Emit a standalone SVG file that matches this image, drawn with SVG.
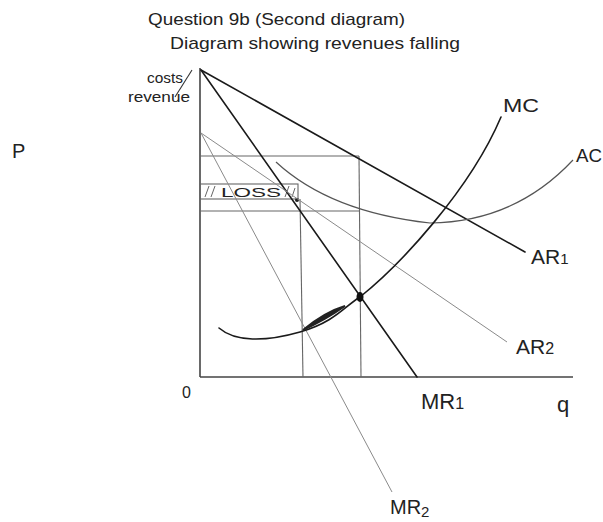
<svg xmlns="http://www.w3.org/2000/svg" width="603" height="522" viewBox="0 0 603 522">
<style>
.hw{font-family:"Liberation Sans",Arial,sans-serif;fill:#222;}
.dark{stroke:#1a1a1a;stroke-width:1.6;fill:none;stroke-linecap:round;}
.mid{stroke:#555;stroke-width:1.2;fill:none;}
.light{stroke:#8a8a8a;stroke-width:1;fill:none;}
.grid{stroke:#666;stroke-width:1.1;fill:none;}
.hatch{stroke:#666;stroke-width:1;}
</style>
<rect width="603" height="522" fill="#fff"/>
<g id="titles">
<text class="hw" x="148" y="25" font-size="17" textLength="257" lengthAdjust="spacingAndGlyphs">Question 9b (Second diagram)</text>
<text class="hw" x="170" y="49" font-size="17" textLength="290" lengthAdjust="spacingAndGlyphs">Diagram showing revenues falling</text>
</g>
<g id="p-label"><text x="12" y="158" font-family="Liberation Sans,Arial,sans-serif" font-size="20" fill="#222">P</text></g>
<g id="axis-labels">
<text class="hw" x="147" y="83" font-size="14" textLength="36" lengthAdjust="spacingAndGlyphs">costs</text>
<line x1="192" y1="70" x2="175" y2="97" stroke="#333" stroke-width="1.1"/>
<text class="hw" x="128" y="102" font-size="14" textLength="62" lengthAdjust="spacingAndGlyphs">revenue</text>
<text class="hw" x="182" y="398" font-size="16">0</text>
<text class="hw" x="557" y="412" font-size="22">q</text>
</g>
<g id="axes">
<line x1="200" y1="68" x2="200" y2="377" stroke="#444" stroke-width="1.6"/>
<line x1="200" y1="377" x2="573" y2="377" stroke="#444" stroke-width="1.6"/>
</g>
<g id="connectors">
<line class="grid" x1="200" y1="156" x2="359" y2="156"/>
<line class="grid" x1="200" y1="211" x2="359" y2="211"/>
<line class="grid" x1="300" y1="199" x2="303" y2="377"/>
<line class="grid" x1="359" y1="156" x2="361" y2="377"/>
</g>
<g id="loss">
<rect x="200" y="184" width="98" height="15" fill="none" stroke="#666" stroke-width="1.1"/>
<line class="hatch" x1="205" y1="197" x2="209" y2="186"/>
<line class="hatch" x1="211" y1="197" x2="215" y2="186"/>
<text class="hw" x="221" y="197" font-size="13" textLength="60" lengthAdjust="spacingAndGlyphs">LOSS</text>
<line class="hatch" x1="285" y1="197" x2="289" y2="186"/>
<line class="hatch" x1="292" y1="197" x2="295" y2="188"/>
<circle cx="297" cy="200" r="2" fill="#222"/>
</g>
<g id="AR1">
<line class="dark" x1="201" y1="70" x2="525" y2="252"/>
<text class="hw" x="531" y="264" font-size="21">AR<tspan font-size="15">1</tspan></text>
</g>
<g id="MR1">
<line class="dark" x1="201" y1="70" x2="417" y2="377"/>
<text class="hw" x="421" y="409" font-size="22">MR<tspan font-size="16">1</tspan></text>
</g>
<g id="AR2">
<line class="light" x1="201" y1="133" x2="507" y2="342"/>
<text class="hw" x="516" y="354" font-size="21">AR<tspan font-size="16">2</tspan></text>
</g>
<g id="MR2">
<line class="light" x1="201" y1="133" x2="392" y2="492"/>
<text class="hw" x="390" y="514" font-size="20">MR<tspan font-size="15" dy="3">2</tspan></text>
</g>
<g id="AC">
<path class="mid" d="M276,162 Q330,212 430,223 Q515,222 573,160"/>
<text class="hw" x="576" y="162" font-size="19" textLength="26" lengthAdjust="spacingAndGlyphs">AC</text>
</g>
<g id="MC">
<path class="dark" d="M219,328 C235,342 265,342 300,332 S345,306 360,297 C400,265 470,190 501,117" stroke-width="1.8"/>
<path d="M303,330 Q325,312 345,306 Q325,320 303,330 Z" fill="#222" stroke="#222" stroke-width="2"/>
<ellipse cx="360" cy="297" rx="3.5" ry="5" fill="#111"/>
<text class="hw" x="503" y="112" font-size="19" textLength="36" lengthAdjust="spacingAndGlyphs">MC</text>
</g>
</svg>
